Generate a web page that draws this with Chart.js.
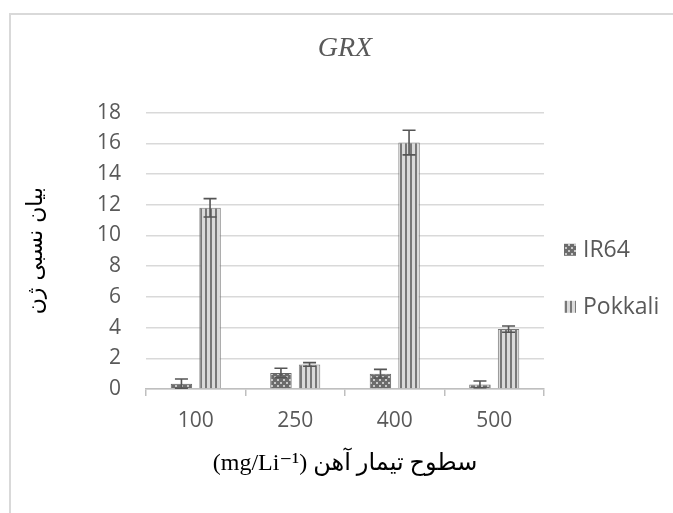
<!DOCTYPE html>
<html>
<head>
<meta charset="utf-8">
<script src="https://cdn.jsdelivr.net/npm/chart.js@4.4.1/dist/chart.umd.min.js"></script>
<style>
  html, body { margin: 0; padding: 0; background: #ffffff; overflow: hidden; }
  #wrap { position: relative; width: 673px; height: 513px; }
  #frame { position: absolute; left: 9px; top: 13px; width: 700px; height: 600px;
           border-left: 2px solid #d9d9d9; border-top: 2px solid #d9d9d9; }
  #c { position: absolute; left: 0; top: 0; }
</style>
</head>
<body>
<div id="wrap">
  <div id="frame"></div>
  <canvas id="c" width="673" height="513"></canvas>
</div>
<script>
// ---- data ----
const categories = ['100', '250', '400', '500'];
const seriesLabels = ['IR64', 'Pokkali'];
const ir64Values = [0.35, 1.05, 1.0, 0.3];
const ir64Errors = [0.3, 0.3, 0.28, 0.22];
const pokkaliValues = [11.8, 1.6, 16.05, 3.9];
const pokkaliErrors = [0.6, 0.12, 0.8, 0.2];
const yTickMin = 0;
const yTickMax = 18;
const yTickStep = 2;
const chartTitle = 'GRX';
const yAxisTitle = 'بیان نسبی ژن';
const xAxisTitle = '(mg/Li⁻¹) سطوح تیمار آهن';

// ---- patterns ----
function makeCheckerPattern() {
  const t = document.createElement('canvas');
  t.width = 6; t.height = 6;
  const g = t.getContext('2d');
  g.fillStyle = '#6c6c6c'; g.fillRect(0, 0, 6, 6);
  g.fillStyle = '#c8c8c8';
  g.fillRect(1, 1, 2, 2);
  g.fillRect(4, 4, 2, 2);
  return g.createPattern(t, 'repeat');
}
function makeStripePattern() {
  const t = document.createElement('canvas');
  t.width = 5; t.height = 5;
  const g = t.getContext('2d');
  g.fillStyle = '#dadada'; g.fillRect(0, 0, 5, 5);
  g.fillStyle = '#787878'; g.fillRect(0, 0, 2, 5);
  return g.createPattern(t, 'repeat');
}
const ctx = document.getElementById('c').getContext('2d');
const patIR64 = makeCheckerPattern();
const patPokkali = makeStripePattern();
const errorArrays = [ir64Errors, pokkaliErrors];

// ---- error bars plugin ----
const errorBarPlugin = {
  id: 'errorBars',
  afterDatasetsDraw(chart) {
    const c = chart.ctx;
    const yScale = chart.scales.y;
    c.save();
    c.strokeStyle = '#555555';
    c.lineWidth = 1.6;
    chart.data.datasets.forEach((ds, di) => {
      const meta = chart.getDatasetMeta(di);
      const errs = errorArrays[di];
      meta.data.forEach((bar, i) => {
        const v = ds.data[i];
        const e = errs[i];
        const yT = yScale.getPixelForValue(v + e);
        const yB = yScale.getPixelForValue(Math.max(v - e, 0));
        const x = bar.x;
        const hw = 6.5;
        c.beginPath();
        c.moveTo(x, yT); c.lineTo(x, yB);
        c.moveTo(x - hw, yT); c.lineTo(x + hw, yT);
        c.moveTo(x - hw, yB); c.lineTo(x + hw, yB);
        c.stroke();
      });
    });
    c.restore();
  }
};

// ---- legend plugin (right side, widely spaced) ----
const sideLegendPlugin = {
  id: 'sideLegend',
  afterDraw(chart) {
    const c = chart.ctx;
    const area = chart.chartArea;
    const x0 = area.right + 20;
    const yFirst = (area.top + area.bottom) / 2 - 1;
    const spacing = 57;
    c.save();
    c.font = '23px "Open Sans"';
    c.textBaseline = 'middle';
    c.textAlign = 'left';
    chart.data.datasets.forEach((ds, i) => {
      const y = yFirst + i * spacing;
      c.fillStyle = ds.backgroundColor;
      c.fillRect(x0, y - 6, 12, 12);
      c.fillStyle = '#595959';
      c.fillText(ds.label, x0 + 19, y + 1);
    });
    c.restore();
  }
};

new Chart(ctx, {
  type: 'bar',
  data: {
    labels: categories,
    datasets: [
      {
        label: seriesLabels[0],
        data: ir64Values,
        backgroundColor: patIR64,
        borderColor: '#666666',
        borderWidth: 1,
        categoryPercentage: 0.575,
        barPercentage: 0.75
      },
      {
        label: seriesLabels[1],
        data: pokkaliValues,
        backgroundColor: patPokkali,
        borderColor: '#787878',
        borderWidth: 1,
        categoryPercentage: 0.575,
        barPercentage: 0.75
      }
    ]
  },
  options: {
    responsive: false,
    animation: false,
    events: [],
    layout: { padding: { left: 12, right: 129, top: 20, bottom: 0 } },
    plugins: {
      legend: { display: false },
      tooltip: { enabled: false },
      title: {
        display: true,
        text: chartTitle,
        fullSize: false,
        color: '#595959',
        font: { family: '"Liberation Serif", "Times New Roman", serif', style: 'italic', size: 28, weight: 'normal', lineHeight: 1.2 },
        padding: { top: 12, bottom: 47 }
      }
    },
    scales: {
      x: {
        afterFit(scale) { scale.height = 124; },
        grid: { drawOnChartArea: false, drawTicks: true, tickLength: 7, color: '#bfbfbf', lineWidth: 1.5 },
        border: { display: true, color: '#bfbfbf', width: 1.5 },
        ticks: { color: '#595959', padding: 12, font: { family: '"Open Sans"', size: 21 } },
        title: {
          display: true,
          text: xAxisTitle,
          color: '#000000',
          font: { family: '"Liberation Serif", "DejaVu Sans", serif', size: 24, weight: 'normal' },
          padding: { top: 0, bottom: 35 }
        }
      },
      y: {
        min: yTickMin,
        max: yTickMax,
        afterFit(scale) { scale.width = 134; },
        grid: { color: '#d9d9d9', lineWidth: 1.5, drawTicks: false },
        border: { display: false },
        ticks: { stepSize: yTickStep, color: '#595959', padding: 25, font: { family: '"Open Sans"', size: 21 } },
        title: {
          display: true,
          text: yAxisTitle,
          color: '#000000',
          font: { family: '"DejaVu Sans"', size: 22, weight: 'normal' },
          padding: { top: 11, bottom: 0 }
        }
      }
    }
  },
  plugins: [errorBarPlugin, sideLegendPlugin]
});
</script>
</body>
</html>
